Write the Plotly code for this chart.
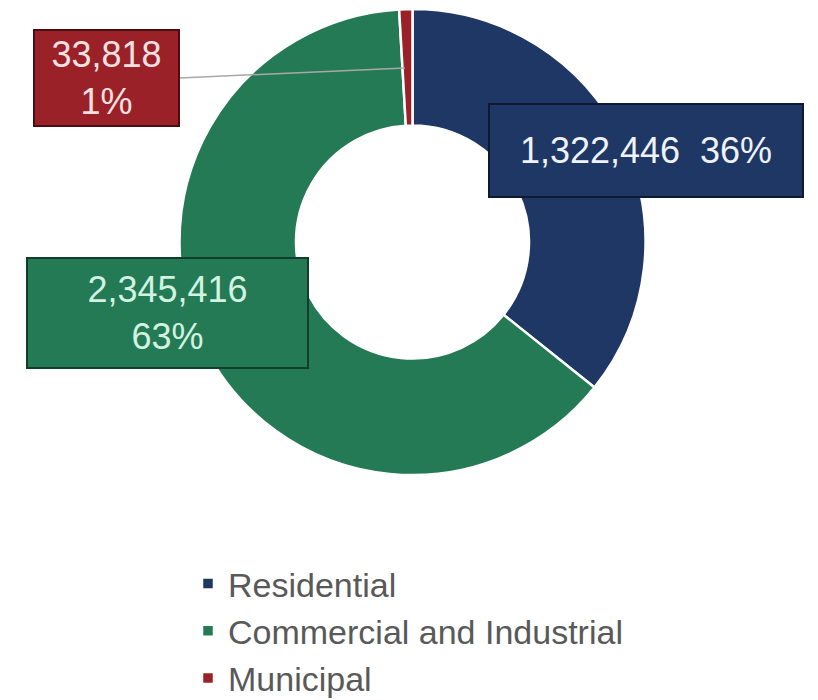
import plotly.graph_objects as go

categories = ["Residential", "Commercial and Industrial", "Municipal"]
values = [1322446, 2345416, 33818]
colors = ["#1F3764", "#247A55", "#9A2127"]
border_colors = ["#0E1A33", "#123D2A", "#4A0E10"]
text_colors = ["#EEF2FA", "#D2F2E2", "#F6E0E2"]

# figure sits in the page with an 8px body margin
W, H = 810, 692
OFF = 8
total = sum(values)
pcts = [round(v / total * 100) for v in values]


def px(x):
    return (x - OFF) / W


def py(y):
    return 1 - (y - OFF) / H


cx, cy, r = 412.5, 242, 233

fig = go.Figure()
fig.add_trace(go.Pie(
    labels=categories,
    values=values,
    hole=0.5,
    sort=False,
    direction="clockwise",
    rotation=0,
    textinfo="none",
    hoverinfo="label+value+percent",
    marker=dict(colors=colors, line=dict(color="white", width=2.5)),
    domain=dict(x=[px(cx - r), px(cx + r)], y=[py(cy + r), py(cy - r)]),
))

# label boxes: (center x, center y, width, height) in page pixels
boxes = [
    (646, 150.5, 316, 95),
    (167.5, 312.5, 283, 112),
    (106.5, 78, 147, 98),
]
texts = [
    f"{values[0]:,}  {pcts[0]}%",
    f"{values[1]:,}<br>{pcts[1]}%",
    f"{values[2]:,}<br>{pcts[2]}%",
]

shapes = [
    dict(type="line", xref="paper", yref="paper",
         x0=px(180), y0=py(78), x1=px(405), y1=py(68),
         line=dict(color="#A8A8A8", width=1.5)),
]

annotations = []
for (bx, by, bw, bh), t, bg, bc, tc in zip(boxes, texts, colors, border_colors, text_colors):
    annotations.append(dict(
        x=px(bx), y=py(by), xref="paper", yref="paper",
        xanchor="center", yanchor="middle",
        text=t, showarrow=False,
        width=bw - 4, height=bh - 4,
        bgcolor=bg, bordercolor=bc, borderwidth=2, borderpad=0,
        font=dict(family="Liberation Sans, Arial, sans-serif", size=36, color=tc),
        align="center",
    ))

fig.update_layout(
    width=W, height=H,
    margin=dict(l=0, r=0, t=0, b=0, autoexpand=False),
    paper_bgcolor="white",
    plot_bgcolor="white",
    shapes=shapes,
    annotations=annotations,
    showlegend=True,
    legend=dict(
        x=px(188), y=py(555), xanchor="left", yanchor="top",
        orientation="v",
        font=dict(family="Liberation Sans, Arial, sans-serif", size=34, color="#595959"),
        itemwidth=30,
        tracegroupgap=0,
        bgcolor="rgba(0,0,0,0)",
    ),
    font=dict(family="Liberation Sans, Arial, sans-serif"),
)

fig.write_html("out.html")
